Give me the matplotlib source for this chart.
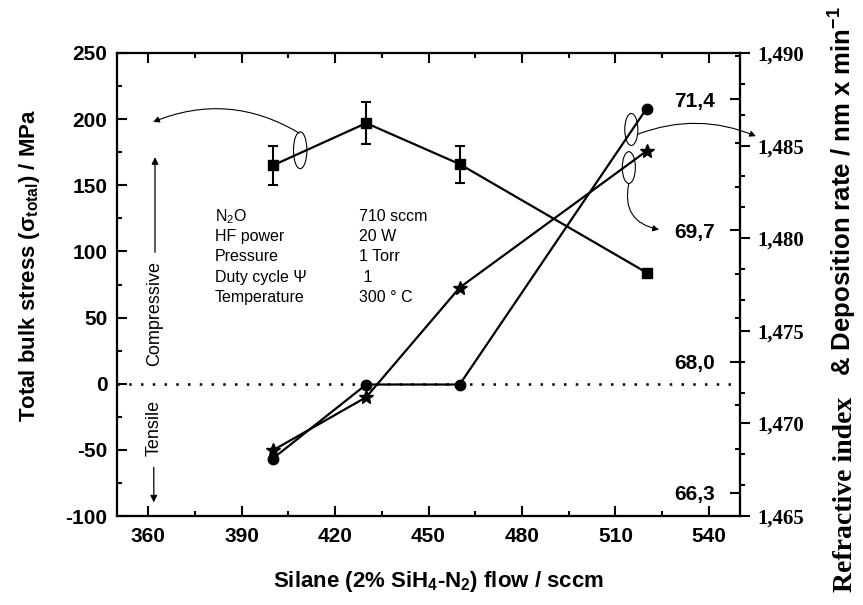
import matplotlib
matplotlib.use("Agg")
import matplotlib.pyplot as plt
from matplotlib.patches import Ellipse
from matplotlib.ticker import AutoMinorLocator, FuncFormatter

plt.rcParams['font.family'] = ['Liberation Sans', 'DejaVu Sans']
plt.rcParams['mathtext.fontset'] = 'custom'
plt.rcParams['mathtext.rm'] = 'Liberation Sans'
plt.rcParams['mathtext.it'] = 'Liberation Sans:italic'
plt.rcParams['mathtext.bf'] = 'Liberation Sans:bold'
plt.rcParams['axes.unicode_minus'] = False

# ---- data ----
silane_flow = [400, 430, 460, 520]
stress = [165, 197, 166, 84]
stress_err = [15, 16, 14, 2]
refr_index = [1.4681, 1.4721, 1.4721, 1.4870]
dep_rate = [66.85, 67.54, 68.96, 70.73]

x_ticks = [360, 390, 420, 450, 480, 510, 540]
stress_ticks = [-100, -50, 0, 50, 100, 150, 200, 250]
ri_ticks = [1.465, 1.470, 1.475, 1.480, 1.485, 1.490]
rate_ticks = [66.3, 68.0, 69.7, 71.4]

param_names = ["N$_2$O", "HF power", "Pressure", "Duty cycle Ψ", "Temperature"]
param_values = ["710 sccm", "20 W", "1 Torr", " 1", "300 ° C"]

fig = plt.figure(figsize=(8.63, 6.05), dpi=100)
ax = fig.add_axes([0.1356, 0.1471, 0.7219, 0.7653])
ax2 = ax.twinx()
ax3 = ax.twinx()

# stress with error bars
ax.errorbar(silane_flow, stress, yerr=stress_err, fmt='-s', color='k', lw=1.6,
            ms=6.5, capsize=3.6, capthick=1.5, elinewidth=1.5, zorder=3)
ax.axhline(0, color='k', lw=1.8, ls=(0, (1, 3.7)), zorder=1)

# refractive index (circles) and deposition rate (stars)
ax2.plot(silane_flow, refr_index, '-o', color='k', lw=1.6, ms=7.5)
ax3.plot(silane_flow, dep_rate, '-*', color='k', lw=1.6, ms=10.5)

ax.set_xlim(350, 550)
ax.set_ylim(-100, 250)
ax2.set_ylim(1.465, 1.490)
ax3.set_ylim(66.0, 72.0)

ax.set_xticks(x_ticks)
ax.set_yticks(stress_ticks)
ax2.set_yticks(ri_ticks)
ax3.set_yticks(rate_ticks)
ax.xaxis.set_minor_locator(AutoMinorLocator(2))
ax.yaxis.set_minor_locator(AutoMinorLocator(2))
ax2.yaxis.set_minor_locator(AutoMinorLocator(3))
ax3.yaxis.set_minor_locator(AutoMinorLocator(3))

ax2.yaxis.set_major_formatter(FuncFormatter(lambda v, p: f"{v:.3f}".replace('.', ',')))
ax3.yaxis.set_major_formatter(FuncFormatter(lambda v, p: f"{v:.1f}".replace('.', ',')))

for a in (ax, ax2, ax3):
    for s in a.spines.values():
        s.set_linewidth(1.5)

ax.tick_params(axis='both', which='major', direction='in', length=7.2, width=1.5, labelsize=15)
ax.tick_params(axis='both', which='minor', direction='in', length=3.6, width=1.5)
ax.tick_params(axis='x', which='both', top=True, bottom=True, pad=8)
ax.tick_params(axis='y', which='both', left=True, right=False, pad=7)

ax2.tick_params(axis='y', which='major', direction='out', length=7.2, width=1.5, pad=5, labelsize=15)
ax2.tick_params(axis='y', which='minor', direction='out', length=3.6, width=1.5)

ax3.tick_params(axis='y', which='major', direction='in', length=7.2, width=1.5, pad=-18, labelsize=15)
ax3.tick_params(axis='y', which='minor', direction='in', length=3.6, width=1.5)

for lab in ax.get_xticklabels() + ax.get_yticklabels():
    lab.set_fontweight('bold')
for lab in ax2.get_yticklabels():
    lab.set_fontfamily('Liberation Serif')
    lab.set_fontweight('bold')
for lab in ax3.get_yticklabels():
    lab.set_fontweight('bold')
    lab.set_horizontalalignment('right')

# axis titles
fig.text(30 / 863, 1 - 265 / 605, "Total bulk stress (σ$_{\\mathbf{total}}$) / MPa",
         rotation=90, ha='center', va='center', fontsize=16, fontweight='bold',
         rotation_mode='anchor')
fig.text(439 / 863, 1 - 581 / 605, "Silane (2% SiH$_{\\mathbf{4}}$-N$_{\\mathbf{2}}$) flow / sccm",
         ha='center', va='center', fontsize=16, fontweight='bold')
fig.text(845 / 863, 1 - 592 / 605, "Refractive index", rotation=90, ha='left', va='center',
         rotation_mode='anchor', fontsize=20, fontweight='bold', family='Liberation Serif')
fig.text(843 / 863, 1 - 376 / 605, "& Deposition rate / nm x min$^{\\mathbf{-1}}$", rotation=90,
         ha='left', va='center', rotation_mode='anchor', fontsize=18.5, fontweight='bold')

# deposition conditions
row_y = [126.5, 111.2, 95.9, 80.6, 65.3]
for name, val, yy in zip(param_names, param_values, row_y):
    ax.text(381.4, yy, name, fontsize=11.5, va='center')
    ax.text(427.7, yy, val, fontsize=11.5, va='center')

# compressive / tensile indicators
arrow_kw = dict(arrowstyle='-|>', lw=0.9, color='k', shrinkA=0, shrinkB=0, mutation_scale=10)
ax.annotate('', xy=(362.2, 171.2), xytext=(362.2, 99.3), arrowprops=arrow_kw)
ax.annotate('', xy=(361.8, -89.7), xytext=(361.8, -63.2), arrowprops=arrow_kw)
ax.text(362.2, 52.8, "Compressive", rotation=90, ha='center', va='center', fontsize=13)
ax.text(361.8, -33.4, "Tensile", rotation=90, ha='center', va='center', fontsize=13)

# series markers: ellipses with curved arrows toward their axes
for cx, cy, w, h in [(408.8, 176.5, 4.3, 27.8), (515.1, 192.2, 4.2, 24.2), (514.3, 163.4, 4.2, 24.0)]:
    ax.add_patch(Ellipse((cx, cy), w, h, fill=False, lw=0.8, ec='k', zorder=4))

curve_kw = dict(arrowstyle='-|>', lw=0.8, color='k', shrinkA=0, shrinkB=0, mutation_scale=9)
ax.annotate('', xy=(361.6, 197.9), xytext=(408.5, 189.4),
            arrowprops=dict(curve_kw, connectionstyle='arc3,rad=0.25'), annotation_clip=False)
ax.annotate('', xy=(555.1, 187.1), xytext=(517.2, 188.6),
            arrowprops=dict(curve_kw, connectionstyle='arc3,rad=-0.2'), annotation_clip=False)
ax.annotate('', xy=(524.0, 116.5), xytext=(514.3, 151.3),
            arrowprops=dict(curve_kw, connectionstyle='arc3,rad=0.5'), annotation_clip=False)

fig.savefig("out.png", dpi=100)
